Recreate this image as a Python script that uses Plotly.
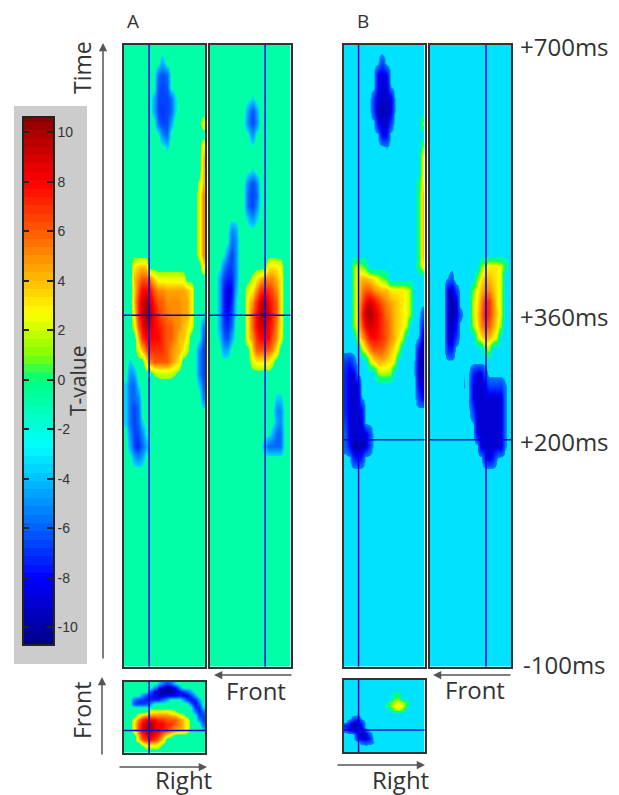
import numpy as np
import plotly.graph_objects as go

W, H = 619, 795

# --- values -----------------------------------------------------------------
N_COLS, N_ROWS_TALL, N_ROWS_SMALL = 20, 52, 18
TIME_TOP, TIME_BOTTOM = 707, -91
BG_A, BG_B = -0.85, -3.3
HLINE_A_MS, HLINE_B_MS = 360, 200
COLORBAR_TICKS = [10, 8, 6, 4, 2, 0, -2, -4, -6, -8, -10]
COLORBAR_LABELS = ["10", "8", "6", "4", "2", "0", "-2", "-4", "-6", "-8", "-10"]
TIME_LABELS = ["+700ms", "+360ms", "+200ms", "-100ms"]

# T-value runs: (row from top, first column, [values]); everything else is background
A_SIDE = [
 (1,9,[-3]),(2,8,[-5,-5.5,-5]),(3,8,[-5.5,-6,-5.5]),(4,7,[-3,-6,-6,-6,-5,-2]),(5,7,[-3,-6,-6.5,-6,-5,-2]),
 (6,8,[-5,-6,-6,-3]),(7,9,[-4,-5]),(8,10,[-2]),
 (6,19,[2]),(8,19,[3]),(9,19,[4]),(10,19,[4]),(11,18,[1,4]),(12,18,[2,5]),(13,18,[2,5]),(14,18,[2,5]),
 (15,18,[2,5]),(16,18,[2,5]),(17,18,[2,5]),(18,19,[3]),
 (18,2,[3,3.5,4,3.5]),
 (19,2,[4,5,6,6,5,3.5,2,2,2,2,2,2,2]),
 (20,2,[3.5,6,8,8,7.5,6,5,5,4.5,4.5,4.5,4.5,4.5,4,3]),
 (21,2,[4,7,9,10,9,7.5,6,6,5,5,5,5,4.5,4.5,3]),
 (22,2,[3,7,9,10.5,10,8,7,6,5.5,5,5,5,4.5,4.5,3]),
 (23,2,[2,6,8,9.5,9,8,7.5,7,6,6,5,5,4,3.5,2]),
 (24,3,[4,7,8,8,8,8,7,6,6,5,4,4,2.5]),
 (25,3,[2,4,6,7,7,7,7,6,5,4.5,4,3,1]),
 (26,5,[3,5,6,6,6,6,5,4,3]),
 (27,7,[0.5,1,1.2,1.2,1,0.5]),
 (26,1,[-2]),(27,1,[-4,-3]),(28,0,[-2,-5,-5,-2]),(29,0,[-2,-5,-5,-4]),(30,0,[-2,-5,-6,-5]),(31,0,[-2,-5,-6,-5,-2]),
 (32,1,[-4,-6,-6,-4,-1.5]),(33,1,[-3,-6,-7,-5,-3]),(34,2,[-3,-4,-3]),
 (23,19,[-4]),(24,19,[-5]),(25,18,[-4,-6]),(26,18,[-4,-6]),(27,18,[-4,-6]),(28,18,[-2,-5]),(29,19,[-4]),(30,19,[-1]),
]
A_BACK = [
 (4,10,[-2]),(5,9,[-3,-6,-3]),(6,9,[-4,-6,-4]),(7,10,[-4]),(8,10,[-1]),
 (10,10,[-2]),(11,9,[-4,-6,-4]),(12,9,[-5,-6,-5]),(13,9,[-5,-6,-4]),(14,9,[-2,-4,-2]),(15,10,[-1]),
 (15,5,[-4,-3]),(16,4,[-1,-5,-4]),(17,4,[-4,-6,-4]),(18,2,[-1,-4,-6,-6,-4]),(19,2,[-3,-6,-7,-7,-4]),
 (20,2,[-3,-7,-9,-8,-3]),(21,2,[-3,-7,-9,-7,-2]),(22,2,[-3,-7,-8,-6,-2]),(23,2,[-3,-6,-7,-5]),
 (24,2,[-2,-5,-6,-3]),(25,3,[-3,-3]),(26,3,[-1]),
 (18,14,[3,3,3,2]),(19,10,[1,3,4,5,5,5,4,3]),(20,9,[2,3,5,7,7,7,6,5,3]),(21,9,[3,5,7,9,10,8,7,6,3]),
 (22,9,[3,6,8,10,10,9,7,6,3]),(23,9,[3,6,8,9,9,8,7,5,3]),(24,9,[3,5,7,8,8,8,6,5,2]),
 (25,10,[4,6,6,6,6,5,3]),(26,10,[2,3,3,3,3,1]),
 (29,16,[-2,-2]),(30,16,[-4,-4]),(31,16,[-3,-4]),(32,14,[-1,-3,-5,-5]),(33,13,[-3,-5,-5,-5,-5]),
]
A_TOP = [
 (0,8,[-2,-4,-6,-5,-2]),(1,7,[-3,-7,-9,-10,-10,-8,-4]),(2,6,[-5,-8,-10,-10,-10,-10,-9,-8,-7,-5,-3]),
 (3,4,[-4,-6,-7,-8,-9,-9,-8,-8,-8,-7,-8,-8,-6,-3]),(4,2,[-5,-6,-6.5,-7,-7,-7,-7,-5,-3]),(4,14,[-3,-6,-8,-7,-3]),
 (5,2,[-6,-6.5,-6.5,-6,-4]),(5,16,[-5,-8,-5]),(6,17,[-7,-7,-2]),(7,17,[-4,-7,-5]),(8,18,[-6,-6]),(9,18,[-4,-6]),
 (10,19,[-5]),(11,19,[-3]),
 (7,6,[2,3,3,3,3,2,1]),
 (8,3,[2,4,5,5,5,5,5,5,4.5,4,3,1.5]),(9,2,[2,5,7,8,8,8,7,7,6,6,6,5,4,2]),
 (10,2,[3,6,8,9,10,9,8,8,7,7,6,5,4,2.5]),(11,2,[3,6,8,10,10,9,8,8,7,6,5,5,4,2.5]),
 (12,2,[2,5,8,9,10,9,8,7,6,5,4,3,3,1.5]),(13,3,[4,7,8,9,8,7,5,2.5,1]),(14,3,[3,6,7,8,7,6,4]),(15,4,[2,4,4,4,3,1]),
 (16,5,[1,1,1,1]),
]
B_SIDE = [
 (1,9,[-6]),(2,8,[-8,-9,-8]),(3,8,[-8,-9,-9,-4]),(4,7,[-6,-9,-9,-9,-9,-4]),(5,7,[-6,-9.5,-9.5,-9.5,-9,-4]),
 (6,8,[-8,-9,-9,-6]),(7,9,[-8,-8]),(8,10,[-4]),
 (6,19,[1]),(8,19,[1]),(9,19,[3]),(10,19,[3]),(11,18,[-0.5,3]),(12,18,[-0.5,4]),(13,18,[-0.5,4]),(14,18,[-0.5,4]),
 (15,18,[-0.5,4]),(16,18,[-0.5,4]),(17,18,[-0.5,4]),(18,18,[0,3]),
 (18,2,[1,2,1,0]),(19,2,[1,3,4,4,3.5,3,2,1,0]),
 (20,2,[1,3,5,6,6,5,4.5,4,4,3,3,3,3,2.5,1]),(21,2,[1,3,6,8,9,8,7,6,5,4.5,4,3.5,3,2.5,1]),
 (22,2,[1,3,7,9.5,10,9,8,7,5.5,5,4,3.5,3,2.5,1]),(23,2,[1,3,6,8,9,8.5,8,7,6,5,4,3.5,3,2]),
 (24,3,[2,4,6,7.5,8,7.5,7,6,5,4,3,2]),(25,4,[1,3,5,6,6,6,5,4,3,1.5]),(26,6,[1.5,3,4,4,3.5,3,2]),(27,8,[1,1.5,1.5,1]),
 (26,0,[-6,-7,-5]),(27,0,[-7,-9,-9,-4]),(28,0,[-7,-9,-9,-9]),(29,0,[-7,-9,-9,-9,-4]),(30,0,[-7,-9,-9,-9,-8]),
 (31,0,[-6,-9,-9,-9,-9,-3]),(32,0,[-5,-9,-9,-9,-9,-9,-6]),(33,0,[-5,-8,-10,-10,-10,-9,-6]),(34,2,[-7,-8,-7]),
 (22,19,[-5]),(23,19,[-7]),(24,18,[-4,-9]),(25,18,[-8,-10]),(26,17,[-4,-9,-10]),(27,17,[-4,-9,-10]),
 (28,18,[-8,-9]),(29,18,[-6,-8]),(30,19,[-3]),
]
B_BACK = [
 (19,4,[-4,-5,-2]),(20,4,[-9,-9,-6]),(21,4,[-9,-10,-9,-3]),(22,4,[-9,-10,-9,-5]),(23,4,[-9,-9,-8]),
 (24,4,[-9,-9,-6]),(25,4,[-7,-7,-3]),
 (18,12,[1,2,3,3,3,2,0]),(19,11,[1,3,4,4,3.5,3,2]),(20,10,[1,2.5,4,5,5,4,3,2]),(21,10,[2,3,5,7,7,5,3,2]),
 (22,10,[2,3.5,5.5,7.5,7,5,3.5,2]),(23,10,[1.5,3,5,6,6,4.5,3,1]),(24,11,[1.5,3,4,4,3,1.5]),(25,13,[1,1]),
 (27,8,[-3.8]),(27,10,[-7,-9,-9,-5]),(28,8,[-4]),(28,10,[-8,-9,-9,-8,-6,-6,-6,-6,-4.2]),
 (29,10,[-8,-9,-9,-9,-9,-9,-9,-9,-4.2]),(30,10,[-6,-9,-9,-9,-9,-9,-9,-9,-4.2]),
 (31,10,[-4,-9,-9,-9,-9,-9,-9,-9,-4.2]),(32,11,[-8,-9,-9,-9,-9,-9,-9,-4.2]),(33,12,[-9,-9,-9,-9,-9,-9,-4.2]),
 (34,13,[-7,-9,-7,-4]),
]
B_TOP = [
 (3,12,[-0.5,-0.5]),(4,12,[0,1]),(5,10,[-2.5,0.5,2,2,1.5,0]),(6,10,[-1,1,2.5,3,2.5,-0.5]),(7,11,[-2,1,1.5,0.5]),
 (9,2,[-5,-6]),(10,1,[-6,-9,-9,-6]),(11,0,[-7,-9,-10,-9,-8,-3]),(12,0,[-5,-8,-9,-9,-9,-5]),
 (13,2,[-4,-8,-10,-9,-5]),(14,3,[-7,-9,-9,-7,-3]),(15,4,[-5,-6,-5,-4]),
]

# colour map stops (T-value, colour)
T_STOPS = [-11, -8, -2.7, 0, 1, 2.7, 4, 6, 8, 10, 11]
T_COLORS = ["#000078", "#0000FF", "#00FFFF", "#00FF80", "#80FF00", "#FFFF00",
            "#FFBE00", "#FF5A00", "#FF0000", "#AA0000", "#6E0000"]
T_MIN, T_MAX = -11, 11
COLORSCALE = [[(v - T_MIN) / (T_MAX - T_MIN), c] for v, c in zip(T_STOPS, T_COLORS)]
CBAR_BOTTOM, CBAR_TOP = -10.67, 10.6
# below-threshold T-values show as background (the sharp contour of the masked maps);
# just past the contour the colour jumps straight to the rim colour of that T-value
MASK_A, RIM_A = (-1.7, 0.5), (-3.5, 1.5)
MASK_B, RIM_B = (-4.0, -2.0), (-5.5, -0.5)

# --- layout helpers ---------------------------------------------------------
INK = "#333333"
LINE = "#0000E0"
ARROW = "#555555"
FONT = "Open Sans"


def xfrac(px):
    return px / W


def yfrac(py):
    return 1 - py / H


def colour_at(v):
    rgb = [[int(c[i:i + 2], 16) for i in (1, 3, 5)] for c in T_COLORS]
    return "rgb(%d,%d,%d)" % tuple(np.interp(v, T_STOPS, [p[k] for p in rgb]) for k in range(3))


def masked_scale(bg, mask, rim):
    lo, hi = mask
    rim_lo, rim_hi = rim
    eps = 0.2
    stops = [(v, c) for v, c in zip(T_STOPS, T_COLORS) if v < rim_lo]
    stops += [(lo, colour_at(rim_lo)), (lo + eps, colour_at(bg)),
              (hi - eps, colour_at(bg)), (hi, colour_at(rim_hi))]
    stops += [(v, c) for v, c in zip(T_STOPS, T_COLORS) if v > rim_hi]
    return [[(v - T_MIN) / (T_MAX - T_MIN), c] for v, c in stops]


def grid(runs, rows, bg):
    z = np.full((rows, N_COLS), float(bg))
    for r, c, vals in runs:
        z[r, c:c + len(vals)] = vals
    return z


fig = go.Figure()
ms_per_row = (TIME_TOP - TIME_BOTTOM) / (623.5 / 12)
row_ms = [TIME_TOP - ms_per_row * (r + 0.5) for r in range(N_ROWS_TALL)]
col_pos = [c + 0.5 for c in range(N_COLS)]
row_pos = [r + 0.5 for r in range(N_ROWS_SMALL)]

# runs, bg, mask, rim, tall?, box (x0,x1,y0,y1 px), vertical line (col units), horizontal line
panels = [
    (A_SIDE, BG_A, MASK_A, RIM_A, True, (124, 205, 45, 666.5), 6.2, HLINE_A_MS),
    (A_BACK, BG_A, MASK_A, RIM_A, True, (209.5, 290.5, 45, 666.5), 13.73, HLINE_A_MS),
    (B_SIDE, BG_B, MASK_B, RIM_B, True, (343.5, 424.5, 45, 666.5), 3.72, HLINE_B_MS),
    (B_BACK, BG_B, MASK_B, RIM_B, True, (430, 511, 45, 666.5), 13.83, HLINE_B_MS),
    (A_TOP, BG_A, MASK_A, RIM_A, False, (124, 205, 681.5, 753), 6.2, 12.33),
    (B_TOP, BG_B, MASK_B, RIM_B, False, (343.5, 424.5, 680, 752), 3.72, 12.5),
]
layout_axes = {}
shapes = [dict(type="rect", xref="paper", yref="paper", x0=xfrac(14), x1=xfrac(87),
               y0=yfrac(664), y1=yfrac(106), fillcolor="#CCCCCC", line_width=0, layer="below")]
for i, (runs, bg, mask, rim, tall, box, vline, hline) in enumerate(panels, start=1):
    x0, x1, y0, y1 = box
    xn, yn = ("x", "y") if i == 1 else (f"x{i}", f"y{i}")
    rows = N_ROWS_TALL if tall else N_ROWS_SMALL
    fig.add_trace(go.Heatmap(z=grid(runs, rows, bg), x=col_pos, y=row_ms if tall else row_pos,
                             xaxis=xn, yaxis=yn, colorscale=masked_scale(bg, mask, rim),
                             zmin=T_MIN, zmax=T_MAX, zsmooth="best", showscale=False, hoverinfo="skip"))
    frame = dict(showline=True, mirror=True, linecolor="#333333", linewidth=1.5, showgrid=False,
                 zeroline=False, ticks="", showticklabels=False)
    layout_axes["xaxis" if i == 1 else f"xaxis{i}"] = dict(
        domain=[xfrac(x0), xfrac(x1)], range=[0, N_COLS], anchor=yn, **frame)
    layout_axes["yaxis" if i == 1 else f"yaxis{i}"] = dict(
        domain=[yfrac(y1), yfrac(y0)],
        range=[TIME_BOTTOM, TIME_TOP] if tall else [N_ROWS_SMALL, 0], anchor=xn, **frame)
    shapes.append(dict(type="line", xref=xn, yref="paper", x0=vline, x1=vline,
                       y0=yfrac(y1), y1=yfrac(y0), line=dict(color=LINE, width=1.5)))
    shapes.append(dict(type="line", xref="paper", yref=yn, x0=xfrac(x0), x1=xfrac(x1),
                       y0=hline, y1=hline, line=dict(color=LINE, width=1.5)))

# colour bar drawn as its own small axes, so ticks can sit inside on both sides
levels = np.linspace(CBAR_BOTTOM, CBAR_TOP, 64)
fig.add_trace(go.Heatmap(z=[[v] for v in levels], y=levels, x=[0], xaxis="x7", yaxis="y7",
                         colorscale=COLORSCALE, zmin=T_MIN, zmax=T_MAX, showscale=False,
                         hoverinfo="skip"))
layout_axes["xaxis7"] = dict(domain=[xfrac(23.5), xfrac(53)], anchor="y7", showticklabels=False,
                             ticks="", showgrid=False, zeroline=False, range=[-0.5, 0.5],
                             showline=True, mirror=True, linecolor="#222222", linewidth=1.5)
layout_axes["yaxis7"] = dict(domain=[yfrac(644), yfrac(117.5)], anchor="x7", side="right",
                             range=[CBAR_BOTTOM, CBAR_TOP], tickvals=COLORBAR_TICKS,
                             ticktext=COLORBAR_LABELS, ticks="inside", ticklen=6, tickwidth=1.5,
                             tickcolor="#222222", mirror="ticks", showline=True,
                             linecolor="#222222", linewidth=1.5, showgrid=False, zeroline=False,
                             tickfont=dict(family="Liberation Sans", size=14, color=INK))


def label(text, px, py, size=24, angle=0, anchor="center"):
    return dict(text=text, x=xfrac(px), y=yfrac(py), xref="paper", yref="paper",
                showarrow=False, xanchor=anchor, yanchor="middle", textangle=angle,
                font=dict(family=FONT, size=size, color=INK))


def arrow(tail, head):
    return dict(text="", x=xfrac(head[0]), y=yfrac(head[1]), xref="paper", yref="paper",
                ax=tail[0] - head[0], ay=tail[1] - head[1], axref="pixel", ayref="pixel",
                showarrow=True, arrowhead=2, arrowsize=1.1, arrowwidth=1.5, arrowcolor=ARROW)


annotations = [
    label("A", 133, 21, 19), label("B", 363, 21, 19),
    label(TIME_LABELS[0], 518, 47, anchor="left"), label(TIME_LABELS[1], 518, 316, anchor="left"),
    label(TIME_LABELS[2], 518, 441, anchor="left"), label(TIME_LABELS[3], 521, 664, anchor="left"),
    label("T-value", 78, 381, 21, -90),
    label("Time", 82, 68, 23, -90), label("Front", 82, 711, 23, -90),
    label("Front", 256, 690), label("Front", 475, 689),
    label("Right", 183, 779), label("Right", 400, 779),
    arrow((103, 660), (103, 43)), arrow((102, 756), (102, 677)),
    arrow((118, 767), (207, 767)), arrow((336, 765), (425, 765)),
    arrow((293, 675), (214, 675)), arrow((512, 675), (433, 675)),
]

fig.update_layout(width=W, height=H, margin=dict(l=0, r=0, t=0, b=0), paper_bgcolor="white",
                  plot_bgcolor="white", showlegend=False, shapes=shapes, annotations=annotations,
                  **layout_axes)
fig.write_html("out.html", config={"displayModeBar": False},
               post_script="document.body.style.margin='0';document.body.style.overflow='hidden';")
